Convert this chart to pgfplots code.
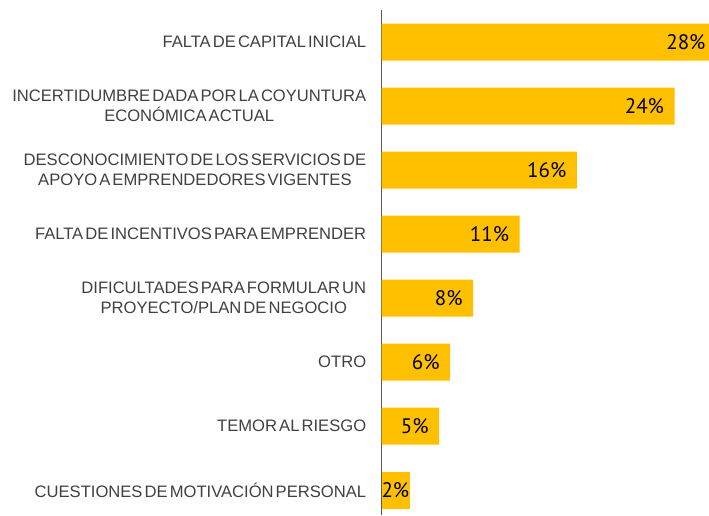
\documentclass[border=0pt]{standalone}
\usepackage{pgfplots}
\pgfplotsset{compat=1.18}
\usepackage{fontspec}
\setmainfont{Liberation Sans}
\newfontfamily\labfont[WordSpace=0.45]{Liberation Sans}
\newfontfamily\numfont{PT Sans}
\definecolor{baryellow}{HTML}{FFC000}
\definecolor{labgray}{HTML}{404040}
\definecolor{axgray}{HTML}{595959}
\begin{document}
\begin{tikzpicture}[x=1pt,y=1pt]
\useasboundingbox (0,0) rectangle (709,515);
\clip (0,0) rectangle (709,515);
\begin{axis}[
  at={(381.7pt,0pt)}, anchor=south west,
  scale only axis, width=366pt, height=505pt,
  xbar, bar width=37pt,
  xmin=0, xmax=30,
  ymin=-0.5, ymax=7.39, y dir=reverse,
  axis x line=none,
  axis y line*=left,
  axis line style={axgray, line width=1.3pt, -},
  ytick={0,...,7},
  major tick length=0pt,
  yticklabels={
    {FALTA DE CAPITAL INICIAL},
    {INCERTIDUMBRE DADA POR LA COYUNTURA\\ECONÓMICA ACTUAL},
    {DESCONOCIMIENTO DE LOS SERVICIOS DE\\APOYO A EMPRENDEDORES VIGENTES},
    {FALTA DE INCENTIVOS PARA EMPRENDER},
    {DIFICULTADES PARA FORMULAR UN\\PROYECTO/PLAN DE NEGOCIO},
    {OTRO},
    {TEMOR AL RIESGO},
    {CUESTIONES DE MOTIVACIÓN PERSONAL}},
  yticklabel style={font=\labfont\fontsize{16.6}{19.5}\selectfont, text=labgray, align=center, xshift=-12pt},
  nodes near coords,
  point meta=explicit symbolic,
  every node near coord/.append style={anchor=east, font=\numfont\fontsize{21}{23}\selectfont, text=black},
  clip=false,
]
\addplot[fill=baryellow, draw=none, bar shift=0pt,
  every node near coord/.append style={xshift=-7pt}] table[meta=lab] {
x y lab
27.4 0 28\%
24.0 1 24\%
16.0 2 16\%
11.3 3 11\%
7.5 4 8\%
5.6 5 6\%
4.7 6 5\%
};
\addplot[fill=baryellow, draw=none, bar shift=0pt,
  every node near coord/.append style={xshift=3pt}] table[meta=lab] {
x y lab
2.3 7 2\%
};
\end{axis}
\end{tikzpicture}
\end{document}
